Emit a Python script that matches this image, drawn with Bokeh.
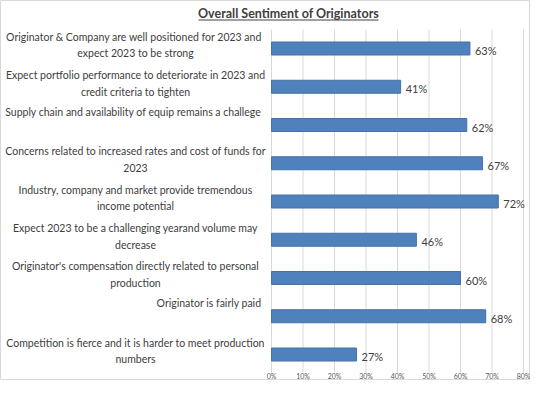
from bokeh.plotting import figure
from bokeh.models import Range1d
from bokeh.core.properties import value
from bokeh.embed import file_html
from bokeh.resources import INLINE

title_text = "Overall Sentiment of Originators"
categories = [
    "Originator & Company are  well positioned for 2023 and\nexpect 2023 to be strong",
    "Expect portfolio performance to deteriorate in 2023 and\ncredit criteria to tighten",
    "Supply chain and availability of equip remains a challege",
    "Concerns related to increased rates and cost of funds for\n2023",
    "Industry, company and market provide tremendous\nincome potential",
    "Expect 2023 to be a challenging yearand volume may\ndecrease",
    "Originator's compensation directly related to personal\nproduction",
    "Originator is fairly paid",
    "Competition is fierce and it is harder to meet production\nnumbers",
]
values = [63, 41, 62, 67, 72, 46, 60, 68, 27]
tick_values = [0, 10, 20, 30, 40, 50, 60, 70, 80]
tick_labels = ["0%", "10%", "20%", "30%", "40%", "50%", "60%", "70%", "80%"]

# ---- layout (pixels on the 530x380 canvas) ----
W, H = 530, 380
X0, X80 = 271.0, 523.0          # pixel of 0% and 80%
K = (X80 - X0) / 80.0           # px per percent
Y0, S = 48.0, 38.25             # pixel of first bar, px per category


def dx(px):
    return (px - X0) / K


def dy(px):
    return (px - Y0) / S


FONT = "Lato"
TXT = "#404040"
n = len(categories)
ys = list(range(n))

p = figure(width=W, height=H, output_backend="svg", toolbar_location=None,
           x_range=Range1d(dx(0), dx(W)), y_range=Range1d(dy(H), dy(0)),
           x_axis_location=None, y_axis_location=None, min_border=0)
p.xgrid.visible = False
p.ygrid.visible = False
p.outline_line_color = "#d9d9d9"
p.outline_line_width = 1
p.background_fill_color = "white"

# gridlines
p.segment(x0=tick_values, x1=tick_values, y0=[dy(29)] * len(tick_values),
          y1=[dy(372)] * len(tick_values), line_color="#d9d9d9", line_width=1)
# tick labels
p.text(x=tick_values, y=[dy(375)] * len(tick_values), text=tick_labels,
       text_align="center", text_baseline="middle", text_font=value(FONT),
       text_font_size="7px", text_color="#595959")

# bars
p.hbar(y=ys, right=values, left=0, height=13 / S,
       fill_color="#4F81BD", line_color="#4472A8", line_width=1)
p.text(x=values, y=ys, text=[f"{v}%" for v in values], x_offset=5, y_offset=2,
       text_baseline="middle", text_align="left", text_font=value(FONT),
       text_font_size="11px", text_color=TXT)

# category labels
multi = [i for i, c in enumerate(categories) if "\n" in c]
single = [i for i, c in enumerate(categories) if "\n" not in c]
p.text(x=[dx(135)] * len(multi), y=[ys[i] for i in multi],
       text=[categories[i] for i in multi], y_offset=-3.5,
       text_align="center", text_baseline="middle", text_font=value(FONT),
       text_font_size="10.5px", text_color=TXT, text_line_height=1.4)
p.text(x=[dx(261)] * len(single), y=[ys[i] for i in single],
       text=[categories[i] for i in single], y_offset=-13.5,
       text_align="right", text_baseline="middle", text_font=value(FONT),
       text_font_size="10.5px", text_color=TXT)

# title with underline
p.text(x=[dx(288)], y=[dy(12.5)], text=[title_text], text_align="center",
       text_baseline="middle", text_font=value(FONT), text_font_size="12.5px",
       text_font_style="bold", text_color=TXT)
p.segment(x0=[dx(198)], x1=[dx(378)], y0=[dy(19.5)], y1=[dy(19.5)],
          line_color=TXT, line_width=1)

open("out.html", "w").write(file_html(p, INLINE))
